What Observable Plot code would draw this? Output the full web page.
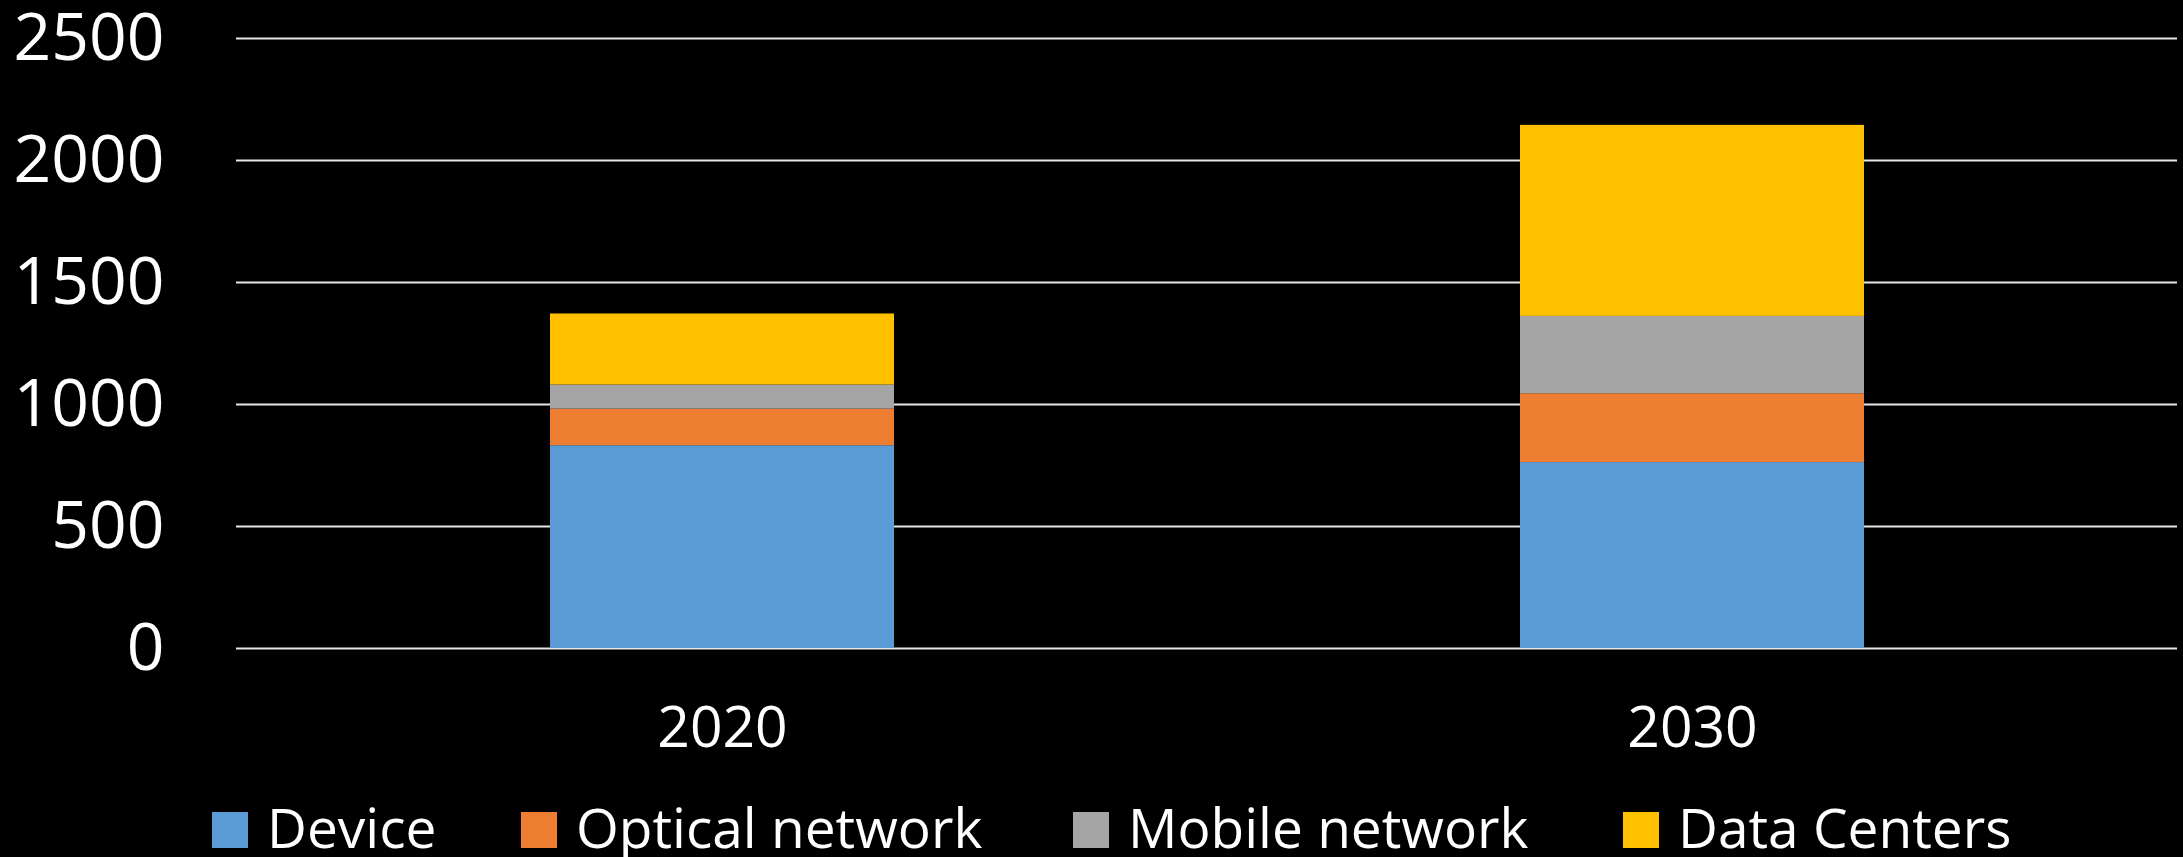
<!DOCTYPE html>
<html>
<head>
<meta charset="utf-8">
<script src="https://cdn.jsdelivr.net/npm/d3@7"></script>
<script src="https://cdn.jsdelivr.net/npm/@observablehq/plot@0.6"></script>
<style>
  html, body { margin: 0; padding: 0; background: #000; }
  #chart { width: 2183px; height: 857px; background: #000; overflow: hidden; }
  #chart svg { display: block; }
</style>
</head>
<body>
<div id="chart"></div>
<script>
// ---- data ----
const years = ["2020", "2030"];
const categories = ["Device", "Optical network", "Mobile network", "Data Centers"];
const colors = ["#5B9BD5", "#ED7D31", "#A5A5A5", "#FFC000"];
const device = [831, 762];
const optical = [150, 282];
const mobile = [99, 317];
const dataCenters = [291, 783];
const yTicks = [0, 500, 1000, 1500, 2000, 2500];

const seriesValues = [device, optical, mobile, dataCenters];
const rows = [];
years.forEach((yr, i) => {
  categories.forEach((cat, j) => {
    rows.push({ year: yr, category: cat, value: seriesValues[j][i] });
  });
});

const W = 2183, H = 775;
const font = "'Open Sans', 'Noto Sans', sans-serif";

const plot = Plot.plot({
  width: W,
  height: H,
  marginLeft: 236,
  marginRight: 6,
  marginTop: 38,
  marginBottom: 127,
  style: { background: "#000", color: "#fff", fontFamily: font },
  x: { domain: years, paddingInner: 0.6455, paddingOuter: 0.3228, label: null },
  y: { domain: [0, 2500], label: null },
  color: { domain: categories, range: colors },
  marks: [
    Plot.ruleY(yTicks, { stroke: "#e6e6e6", strokeWidth: 2 }),
    Plot.barY(rows, { x: "year", y: "value", fill: "category", order: categories }),
    Plot.axisY(yTicks, { tickSize: 0, tickPadding: 72, fontSize: 66, label: null, stroke: "none", fill: "#fff", tickFormat: d => String(d) }),
    Plot.axisX({ tickSize: 0, tickPadding: 58, fontSize: 57, label: null, fill: "#fff" })
  ]
});
document.getElementById("chart").appendChild(plot);

// ---- legend (below the plot SVG) ----
const color = plot.scale("color");
const legendX = [212, 521, 1073, 1623];
const leg = d3.select("#chart").append("svg")
  .attr("width", W).attr("height", 857 - H)
  .style("background", "#000");
const g = leg.selectAll("g").data(categories).join("g")
  .attr("transform", (d, i) => `translate(${legendX[i]},0)`);
g.append("rect").attr("x", 0).attr("y", 37).attr("width", 36).attr("height", 36)
  .attr("fill", d => color.apply(d));
g.append("text").attr("x", 55).attr("y", 72.5)
  .attr("fill", "#fff").attr("font-family", font).attr("font-size", 55)
  .text(d => d);
</script>
</body>
</html>
